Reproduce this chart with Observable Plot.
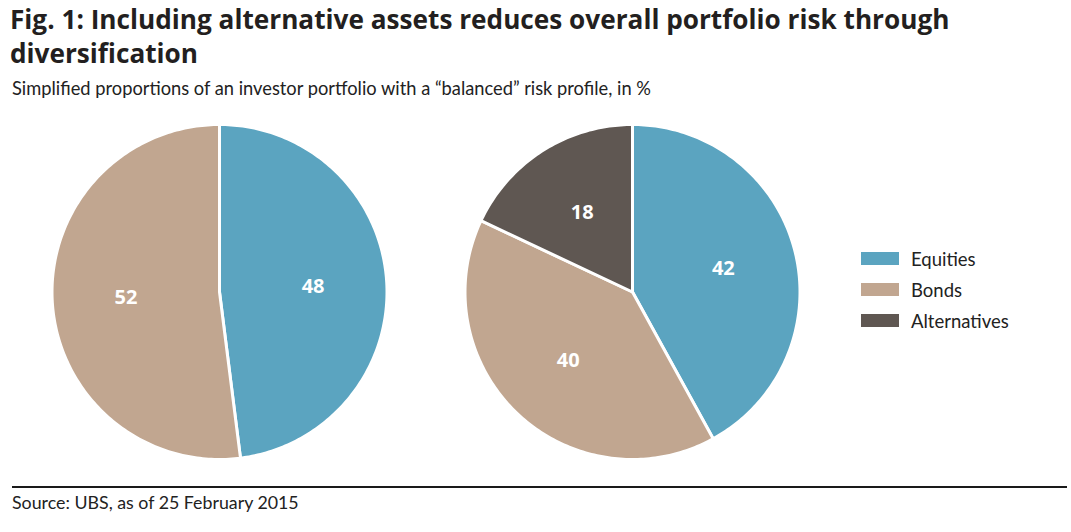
<!DOCTYPE html>
<html>
<head>
<meta charset="utf-8">
<script src="https://cdn.jsdelivr.net/npm/d3@7"></script>
<script src="https://cdn.jsdelivr.net/npm/@observablehq/plot@0.6"></script>
<style>
  html, body { margin: 0; padding: 0; background: #fff; }
  #page { position: relative; width: 1071px; height: 532px; overflow: hidden; font-family: Lato, "Open Sans", sans-serif; color: #1a1a1a; }
  #title { position: absolute; left: 10px; top: 2px; font-family: "Open Sans", sans-serif; font-size: 26.2px; font-weight: 700; line-height: 34px; color: #231f20; white-space: nowrap; }
  #subtitle { position: absolute; left: 12px; top: 77px; font-size: 18.3px; line-height: 22px; color: #222; white-space: nowrap; }
  #chart { position: absolute; left: 0; top: 105px; }
  #legend { position: absolute; left: 861px; top: 243px; }
  .item { display: flex; align-items: center; height: 31px; font-size: 18.5px; color: #222; }
  .sw { width: 38px; height: 13px; margin-right: 12px; }
  #rule { position: absolute; left: 12px; top: 486px; width: 1055px; height: 2px; background: #1a1a1a; }
  #source { position: absolute; left: 12px; top: 491px; font-size: 17.8px; line-height: 22px; color: #222; white-space: nowrap; }
</style>
</head>
<body>
<div id="page">
  <div id="title">Fig. 1: Including alternative assets reduces overall portfolio risk through<br>diversification</div>
  <div id="subtitle">Simplified proportions of an investor portfolio with a “balanced” risk profile, in %</div>
  <div id="chart"></div>
  <div id="legend"></div>
  <div id="rule"></div>
  <div id="source">Source: UBS, as of 25 February 2015</div>
</div>
<script>
// ---- data ----
const pies = ["Without alternatives", "With alternatives"];
const categories = ["Equities", "Bonds", "Alternatives"];
const valuesWithout = [48, 52, 0];
const valuesWith = [42, 40, 18];
const colors = ["#5ba4c0", "#c1a690", "#5f5752"];

// ---- layout (not data) ----
const W = 1071, H = 380;
const R = 167.5;                 // pie radius in px
const cxPx = [219, 632];         // pie centre x in px
const cyPx = 186.5;              // pie centre y in SVG px
const centres = cxPx.map(c => (c - cxPx[0]) / R);

const seriesByPie = [valuesWithout, valuesWith];

// build slice polygons (unit circle, angles clockwise from 12 o'clock)
const slicePts = [];
const labels = [];
seriesByPie.forEach((vals, p) => {
  const total = d3.sum(vals);
  let acc = 0;
  vals.forEach((v, i) => {
    if (!v) return;
    const a0 = acc / total * 2 * Math.PI;
    acc += v;
    const a1 = acc / total * 2 * Math.PI;
    const key = pies[p] + "|" + categories[i];
    const cx = centres[p];
    slicePts.push({key, cat: categories[i], x: cx, y: 0});
    const n = Math.max(2, Math.ceil((a1 - a0) / (Math.PI / 180)));
    for (let k = 0; k <= n; k++) {
      const a = a0 + (a1 - a0) * k / n;
      slicePts.push({key, cat: categories[i], x: cx + Math.sin(a), y: Math.cos(a)});
    }
    slicePts.push({key, cat: categories[i], x: cx, y: 0});
    const am = (a0 + a1) / 2;
    const lr = 0.56;
    labels.push({x: cx + lr * Math.sin(am), y: lr * Math.cos(am), text: String(v)});
  });
});

const chart = Plot.plot({
  width: W,
  height: H,
  margin: 0,
  x: {domain: [-cxPx[0] / R, (W - cxPx[0]) / R], range: [0, W], axis: null},
  y: {domain: [-(H - cyPx) / R, cyPx / R], range: [H, 0], axis: null},
  color: {domain: categories, range: colors},
  marks: [
    Plot.line(slicePts, {x: "x", y: "y", z: "key", fill: "cat", stroke: "white", strokeWidth: 3, strokeLinejoin: "round"}),
    Plot.text(labels, {x: "x", y: "y", text: "text", fill: "white", fontSize: 20, fontWeight: "bold", fontFamily: "'Open Sans', sans-serif"})
  ]
});
document.getElementById("chart").appendChild(chart);

const legend = document.getElementById("legend");
categories.forEach((c, i) => {
  const row = document.createElement("div");
  row.className = "item";
  const sw = document.createElement("div");
  sw.className = "sw";
  sw.style.background = colors[i];
  const t = document.createElement("span");
  t.textContent = c;
  row.appendChild(sw); row.appendChild(t);
  legend.appendChild(row);
});
</script>
</body>
</html>
